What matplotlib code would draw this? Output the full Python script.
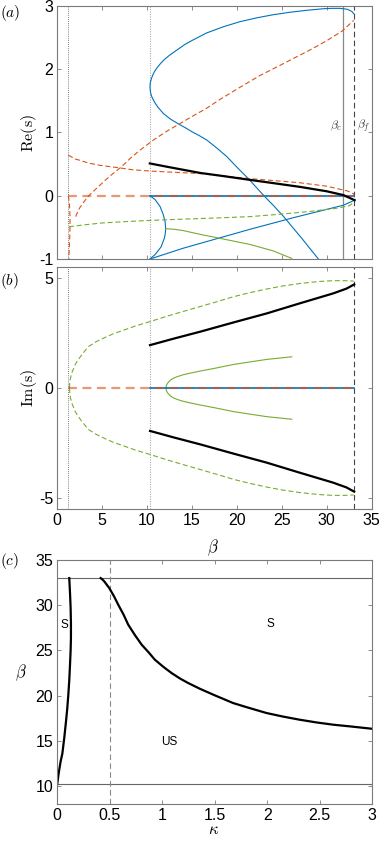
import matplotlib
matplotlib.use('Agg')
from matplotlib import pyplot as plt
import numpy as np

plt.rcParams['font.family'] = ['Liberation Sans', 'DejaVu Sans']
plt.rcParams['mathtext.fontset'] = 'cm'
plt.rcParams['axes.unicode_minus'] = False

BLUE = '#0072BD'
RED = '#D95319'
GREEN = '#77AC30'

# reference values of beta
beta_1 = 1.22
beta_2 = 10.3
beta_c = 31.85
beta_f = 33.05

# (a) real parts
blue_c_beta = [33.04, 32.8, 32.3, 31.5, 30.5, 29.7, 27.8, 26.0, 24.06, 22.2, 20.35, 18.5, 16.6, 15.1,
               14.2, 13.5, 12.5, 11.9, 11.44, 11.1, 10.9, 10.7, 10.5, 10.4, 10.34, 10.32, 10.34, 10.4,
               10.5, 10.7, 10.95, 11.2, 11.8, 12.6, 13.66, 14.3, 15.0, 15.8, 16.64, 17.7, 18.86, 20.0,
               21.27, 22.1, 23.0, 24.1, 25.2, 26.2, 27.2, 28.1, 29.07]
blue_c_re = [2.87, 2.91, 2.945, 2.96, 2.96, 2.955, 2.93, 2.90, 2.86, 2.81, 2.75, 2.67, 2.57, 2.46,
             2.39, 2.32, 2.22, 2.15, 2.08, 2.02, 1.98, 1.93, 1.86, 1.81, 1.77, 1.72, 1.67, 1.62,
             1.57, 1.51, 1.45, 1.40, 1.30, 1.21, 1.12, 1.07, 1.01, 0.95, 0.88, 0.76, 0.62, 0.45,
             0.27, 0.14, 0.0, -0.16, -0.33, -0.5, -0.67, -0.83, -1.0]

blue_arc_beta = [10.32, 10.88, 11.44, 11.8, 12.0, 12.07, 12.02, 11.92, 11.55, 10.88, 10.32]
blue_arc_re = [0.0, -0.06, -0.17, -0.30, -0.41, -0.52, -0.6, -0.67, -0.81, -0.93, -1.0]

blue_line_beta = [10.32, 14.0, 21.46, 26.2, 31.85, 33.1]
blue_line_re = [-1.0, -0.83, -0.53, -0.35, -0.15, -0.07]

red_rise_beta = [2.05, 2.25, 2.5, 3.0, 3.5, 4.4, 5.3, 6.2, 7.17, 8.2, 9.21, 10.7, 12.2, 13.66, 15.1,
                 16.6, 18.1, 20.3, 22.57, 24.8, 27.0, 28.5, 30.0, 31.7, 33.0]
red_rise_re = [-0.33, -0.26, -0.19, -0.09, 0.0, 0.12, 0.24, 0.35, 0.46, 0.6, 0.72, 0.88, 1.02, 1.14, 1.26,
               1.38, 1.52, 1.71, 1.90, 2.06, 2.22, 2.33, 2.45, 2.6, 2.77]

red_upper_beta = [1.22, 1.5, 2.0, 2.5, 3.5, 4.75, 6.4, 8.4, 10.3, 15.9, 21.46, 27.0, 30.0, 31.85,
                  32.3, 32.8, 33.0, 33.05]
red_upper_re = [0.64, 0.62, 0.58, 0.56, 0.515, 0.48, 0.45, 0.41, 0.39, 0.35, 0.27, 0.205, 0.15, 0.09,
                0.075, 0.045, 0.025, 0.0]

red_drop_beta = [1.22, 1.35, 1.42, 1.40, 1.33, 1.28]
red_drop_re = [0.0, -0.12, -0.35, -0.6, -0.85, -1.0]

green_dash_a_beta = [1.3, 3.0, 5.0, 7.5, 10.3, 14.0, 18.0, 21.46, 25.0, 28.0, 31.0, 32.5, 33.05]
green_dash_a_re = [-0.49, -0.46, -0.43, -0.41, -0.39, -0.37, -0.35, -0.33, -0.29, -0.25, -0.2, -0.16, -0.1]

green_solid_a_beta = [12.07, 13.0, 14.0, 15.9, 18.0, 21.46, 24.0, 26.1]
green_solid_a_re = [-0.52, -0.53, -0.55, -0.61, -0.67, -0.77, -0.87, -0.99]

black_a_beta = [10.3, 12.5, 15.9, 18.5, 21.46, 24.0, 27.0, 30.0, 31.85, 33.1]
black_a_re = [0.51, 0.45, 0.36, 0.31, 0.25, 0.2, 0.14, 0.07, 0.01, -0.07]

# (b) imaginary parts (upper half, lower half is the conjugate)
green_dash_b_beta = [1.35, 1.4, 1.5, 1.65, 1.97, 2.3, 2.7, 3.45, 4.3, 5.31, 6.2, 7.17, 8.7, 10.32, 12.5,
                     14.6, 17.56, 19.6, 21.5, 23.3, 25.1, 27.0, 29.0, 30.7, 32.0, 33.0]
green_dash_b_im = [0.0, 0.3, 0.5, 0.72, 1.05, 1.27, 1.5, 1.88, 2.1, 2.3, 2.46, 2.6, 2.82, 3.02, 3.3,
                   3.55, 3.9, 4.15, 4.34, 4.5, 4.64, 4.75, 4.84, 4.88, 4.88, 4.86]

black_b_beta = [10.32, 13.0, 15.9, 19.6, 23.3, 27.0, 30.7, 32.2, 33.05]
black_b_im = [1.95, 2.25, 2.56, 2.98, 3.39, 3.85, 4.3, 4.52, 4.71]

green_solid_b_beta = [12.1, 12.13, 12.25, 12.4, 12.6, 12.9, 13.3, 13.9, 14.6, 15.9, 17.56, 19.6, 21.5, 23.3, 26.1]
green_solid_b_im = [0.0, 0.1, 0.2, 0.28, 0.36, 0.44, 0.51, 0.59, 0.66, 0.77, 0.9, 1.07, 1.19, 1.3, 1.42]

# (c) stability boundaries
kappa_left = [0.0, 0.008, 0.016, 0.032, 0.048, 0.066, 0.083, 0.095, 0.105, 0.114, 0.121, 0.127, 0.130,
              0.130, 0.127, 0.121, 0.114]
beta_left = [10.3, 11.0, 11.65, 12.76, 13.6, 15.3, 17.17, 18.6, 20.1, 21.7, 23.4, 25.0, 26.4,
             28.0, 29.7, 31.4, 33.0]

kappa_right = [0.413, 0.43, 0.45, 0.495, 0.54, 0.581, 0.63, 0.676, 0.74, 0.804, 0.87, 0.93, 1.01, 1.09,
               1.17, 1.248, 1.359, 1.5, 1.676, 1.8, 1.994, 2.15, 2.31, 2.47, 2.63, 2.8, 3.0]
beta_right = [33.0, 32.85, 32.6, 31.9, 31.0, 30.05, 29.0, 27.85, 26.7, 25.64, 24.8, 23.98, 23.2, 22.5,
              21.9, 21.4, 20.77, 20.05, 19.19, 18.75, 18.09, 17.7, 17.35, 17.05, 16.8, 16.6, 16.35]


fig = plt.figure(figsize=(3.82, 8.44), dpi=100)
ax_a = fig.add_axes([0.150, 0.6931, 0.823, 0.300])
ax_b = fig.add_axes([0.150, 0.3969, 0.823, 0.2867])
ax_c = fig.add_axes([0.150, 0.0470, 0.824, 0.2895])

dash = (0, (4.5, 2.5))
thin = 0.8


def style(ax):
	for s in ax.spines.values():
		s.set_color('#7a7a7a')
		s.set_linewidth(0.8)
	ax.tick_params(direction='in', top=True, right=True, length=3, width=0.6,
	               color='#7a7a7a', labelsize=11.5, pad=3)


def reflines(ax):
	ax.axvline(beta_1, color='#555555', lw=0.6, ls=(0, (1, 1.5)))
	ax.axvline(beta_2, color='#aaaaaa', lw=0.8, ls=(0, (1, 1.2)))
	ax.axvline(beta_f, color='#444444', lw=0.8, ls=(0, (5, 3)))


# panel a
reflines(ax_a)
ax_a.axvline(beta_c, color='#888888', lw=0.9)
ax_a.plot(blue_c_beta, blue_c_re, color=BLUE, lw=thin)
ax_a.plot(blue_arc_beta, blue_arc_re, color=BLUE, lw=thin)
ax_a.plot(blue_line_beta, blue_line_re, color=BLUE, lw=thin)
ax_a.plot([beta_2, beta_f], [0, 0], color=BLUE, lw=1.2)
ax_a.plot([beta_1, beta_f], [0, 0], color=RED, lw=1.6, ls=(0, (4, 2.5)), alpha=0.6)
ax_a.plot(red_rise_beta, red_rise_re, color=RED, lw=thin, ls=dash)
ax_a.plot(red_upper_beta, red_upper_re, color=RED, lw=thin, ls=dash)
ax_a.plot(red_drop_beta, red_drop_re, color=RED, lw=thin, ls=dash)
ax_a.plot(green_dash_a_beta, green_dash_a_re, color=GREEN, lw=thin, ls=dash)
ax_a.plot(green_solid_a_beta, green_solid_a_re, color=GREEN, lw=thin)
ax_a.plot(black_a_beta, black_a_re, color='black', lw=1.6)
ax_a.text(31.0, 1.1, r'$\beta_c$', ha='center', va='center', fontsize=8.5, color='#333333')
ax_a.text(34.05, 1.1, r'$\beta_f$', ha='center', va='center', fontsize=8.5, color='#333333')
ax_a.set_xlim(0, 35)
ax_a.set_ylim(-1, 3)
ax_a.set_xticks(np.arange(0, 36, 5))
ax_a.set_xticklabels([])
ax_a.set_yticks([-1, 0, 1, 2, 3])
style(ax_a)

# panel b
reflines(ax_b)
g_up = np.array(green_dash_b_im)
ax_b.plot(green_dash_b_beta, g_up, color=GREEN, lw=thin, ls=dash)
ax_b.plot(green_dash_b_beta, -g_up, color=GREEN, lw=thin, ls=dash)
gs_up = np.array(green_solid_b_im)
ax_b.plot(green_solid_b_beta, gs_up, color=GREEN, lw=thin)
ax_b.plot(green_solid_b_beta, -gs_up, color=GREEN, lw=thin)
ax_b.plot([beta_2, beta_f], [0, 0], color=BLUE, lw=1.2)
ax_b.plot([beta_1, beta_f], [0, 0], color=RED, lw=1.6, ls=(0, (4, 2.5)), alpha=0.6)
k_up = np.array(black_b_im)
ax_b.plot(black_b_beta, k_up, color='black', lw=1.6)
ax_b.plot(black_b_beta, -k_up, color='black', lw=1.6)
ax_b.set_xlim(0, 35)
ax_b.set_ylim(-5.5, 5.5)
ax_b.set_xticks(np.arange(0, 36, 5))
ax_b.set_yticks([-5, 0, 5])
style(ax_b)

# panel c
ax_c.axhline(33, color='#666666', lw=0.8)
ax_c.axhline(10.3, color='#666666', lw=0.8)
ax_c.axvline(0.5, color='#888888', lw=0.8, ls=(0, (5, 3)))
ax_c.plot(kappa_left, beta_left, color='black', lw=1.6)
ax_c.plot(kappa_right, beta_right, color='black', lw=1.6)
ax_c.text(0.064, 27.85, 'S', ha='center', va='center', fontsize=8.5)
ax_c.text(2.035, 27.9, 'S', ha='center', va='center', fontsize=8.5)
ax_c.text(1.07, 14.9, 'US', ha='center', va='center', fontsize=8.5)
ax_c.set_xlim(0, 3)
ax_c.set_ylim(8, 35)
ax_c.set_xticks([0, 0.5, 1, 1.5, 2, 2.5, 3])
ax_c.set_xticklabels(['0', '0.5', '1', '1.5', '2', '2.5', '3'])
ax_c.set_yticks([10, 15, 20, 25, 30, 35])
style(ax_c)

# labels
fig.text(0.026, 0.985, r'$(a)$', ha='center', va='center', fontsize=11)
fig.text(0.026, 0.667, r'$(b)$', ha='center', va='center', fontsize=11)
fig.text(0.026, 0.335, r'$(c)$', ha='center', va='center', fontsize=11)
fig.text(0.075, 0.842, r'$\mathrm{Re(s)}$', rotation=90, ha='center', va='center', fontsize=11.5)
fig.text(0.075, 0.540, r'$\mathrm{Im(s)}$', rotation=90, ha='center', va='center', fontsize=11.5)
fig.text(0.558, 0.351, r'$\beta$', ha='center', va='center', fontsize=12)
fig.text(0.054, 0.203, r'$\beta$', ha='center', va='center', fontsize=12)
fig.text(0.558, 0.017, r'$\kappa$', ha='center', va='center', fontsize=12)

fig.savefig('out.png', dpi=100)
